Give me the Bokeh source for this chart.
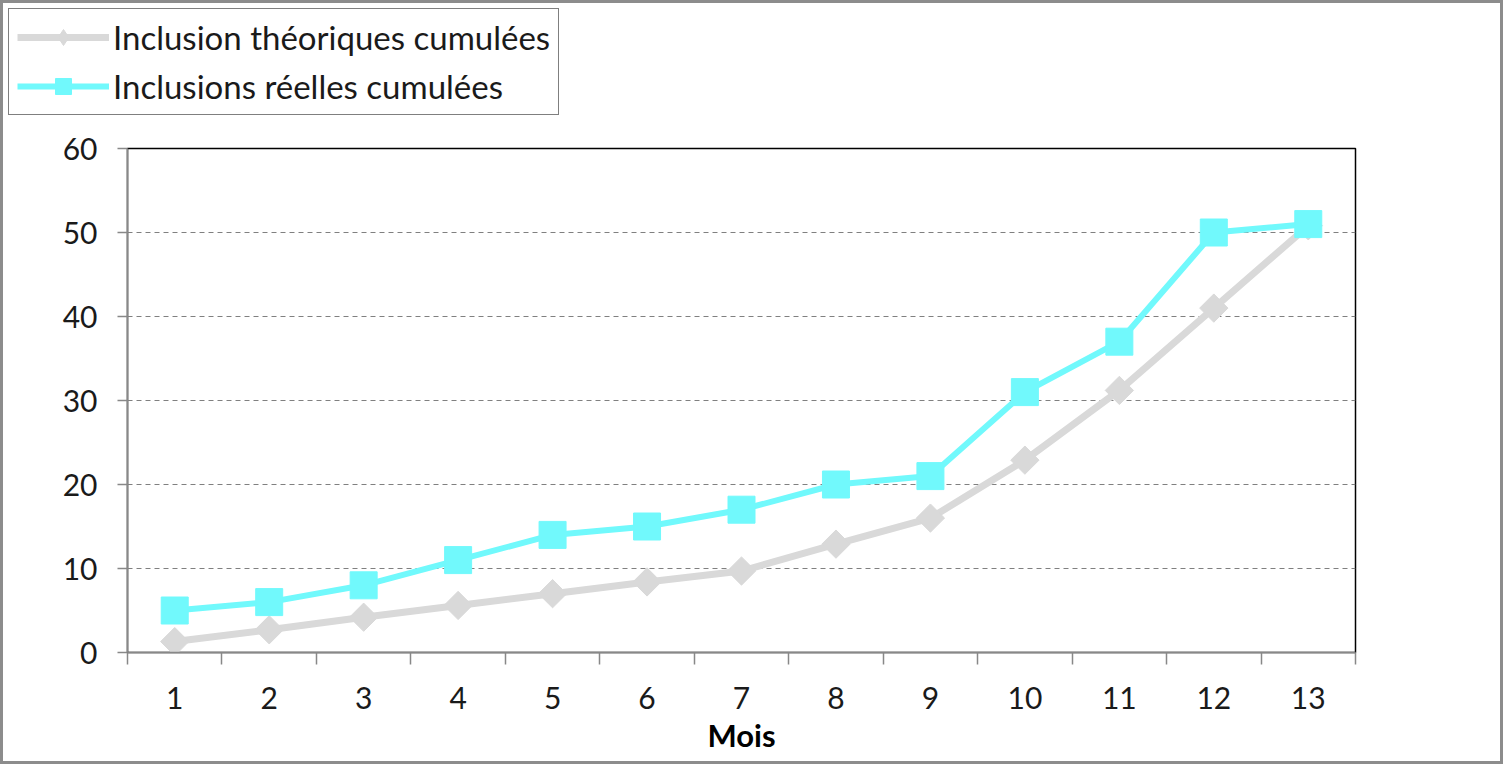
import math
from bokeh.plotting import figure
from bokeh.layouts import column
from bokeh.models import (FixedTicker, Range1d, Legend, LegendItem)
from bokeh.embed import file_html
from bokeh.resources import INLINE

months = [1, 2, 3, 4, 5, 6, 7, 8, 9, 10, 11, 12, 13]
month_labels = [str(m) for m in months]
theoretical = [1.3, 2.7, 4.2, 5.6, 7.0, 8.4, 9.7, 12.9, 16.0, 22.9, 31.2, 41.0, 50.8]
actual = [5, 6, 8, 11, 14, 15, 17, 20, 21, 31, 37, 50, 51]
y_ticks = [0, 10, 20, 30, 40, 50, 60]
name_theo = "Inclusion théoriques cumulées"
name_real = "Inclusions réelles cumulées"
x_title = "Mois"

FONT = "Lato"
GRAY = "#D9D9D9"
CYAN = "#71F9FC"
B = 3
W = 1503 - 2 * B
TOP_H = 120 - B
BOT_H = 644 - B

# ---------- main chart ----------
p = figure(width=W, height=BOT_H, output_backend="svg", toolbar_location=None,
           x_range=Range1d(0.5, 13.5), y_range=Range1d(0, 60),
           min_border_left=127 - B, min_border_right=1503 - B - 1355,
           min_border_top=148 - 120, min_border_bottom=BOT_H - (652 - 120))
p.frame_align = False
p.background_fill_color = "white"
p.border_fill_color = "white"
p.outline_line_color = "#000000"
p.outline_line_width = 1.5

p.xaxis.ticker = FixedTicker(ticks=months, minor_ticks=[m + 0.5 for m in [0] + months])
p.xaxis.major_label_overrides = {m: s for m, s in zip(months, month_labels)}
p.xaxis.major_tick_line_color = None
p.xaxis.major_tick_out = 0
p.xaxis.major_tick_in = 0
p.xaxis.minor_tick_out = 12
p.xaxis.minor_tick_in = 0
p.xaxis.minor_tick_line_color = "#888888"
p.xaxis.minor_tick_line_width = 1.5
p.xaxis.axis_line_color = "#888888"
p.xaxis.axis_line_width = 1.5
p.xaxis.major_label_standoff = 22
p.xaxis.major_label_text_font = FONT
p.xaxis.major_label_text_font_size = "30px"
p.xaxis.major_label_text_color = "#1a1a1a"
p.xaxis.axis_label = x_title
p.xaxis.axis_label_text_font = FONT
p.xaxis.axis_label_text_font_size = "31px"
p.xaxis.axis_label_text_font_style = "bold"
p.xaxis.axis_label_text_color = "#000000"
p.xaxis.axis_label_standoff = 4

p.yaxis.ticker = FixedTicker(ticks=y_ticks)
p.yaxis.minor_tick_line_color = None
p.yaxis.major_tick_out = 10
p.yaxis.major_tick_in = 0
p.yaxis.major_tick_line_color = "#888888"
p.yaxis.major_tick_line_width = 1.5
p.yaxis.axis_line_color = "#888888"
p.yaxis.axis_line_width = 1.5
p.yaxis.major_label_standoff = 20
p.yaxis.major_label_text_font = FONT
p.yaxis.major_label_text_font_size = "30px"
p.yaxis.major_label_text_color = "#1a1a1a"

p.xgrid.grid_line_color = None
p.ygrid.ticker = FixedTicker(ticks=[t for t in y_ticks if 0 < t < 60])
p.ygrid.grid_line_color = "#808080"
p.ygrid.grid_line_dash = "5 4"
p.ygrid.grid_line_width = 1.2

p.line(months, theoretical, line_color=GRAY, line_width=7)
p.scatter(months, theoretical, marker="square", size=20, angle=math.pi / 4,
          fill_color=GRAY, line_color=GRAY)
p.line(months, actual, line_color=CYAN, line_width=6)
p.scatter(months, actual, marker="square", size=27, fill_color=CYAN, line_color=CYAN)

# ---------- legend strip (same series, drawn outside its own visible range) ----------
lg = figure(width=W, height=TOP_H, output_backend="svg", toolbar_location=None,
            x_range=Range1d(-2, -1), y_range=Range1d(-2, -1),
            x_axis_type=None, y_axis_type=None,
            min_border_left=0, min_border_right=0, min_border_top=0, min_border_bottom=0)
lg.frame_align = False
lg.outline_line_color = None
lg.grid.grid_line_color = None
lg.background_fill_color = "white"
lg.border_fill_color = "white"

k1 = lg.line(months, theoretical, line_color=GRAY, line_width=7)
k2 = lg.scatter(months, theoretical, marker="diamond", size=28,
                fill_color=GRAY, line_color=GRAY)
k3 = lg.line(months, actual, line_color=CYAN, line_width=6)
k4 = lg.scatter(months, actual, marker="square", size=27, fill_color=CYAN, line_color=CYAN)

legend = Legend(items=[LegendItem(label=name_theo, renderers=[k1, k2]),
                       LegendItem(label=name_real, renderers=[k3, k4])],
                location=(8 - B, TOP_H - (115 - B)))
legend.border_line_color = "#000000"
legend.border_line_width = 1.5
legend.background_fill_color = "white"
legend.background_fill_alpha = 1
legend.label_text_font = FONT
legend.label_text_font_size = "33px"
legend.label_text_color = "#1a1a1a"
legend.glyph_width = 92
legend.glyph_height = 40
legend.label_height = 40
legend.label_standoff = 4
legend.spacing = 9
legend.padding = 8
legend.margin = 0
lg.add_layout(legend, "center")

page = column(lg, p, spacing=0, styles={"border": f"{B}px solid #8c8c8c"})

open("out.html", "w").write(file_html(page, INLINE))
